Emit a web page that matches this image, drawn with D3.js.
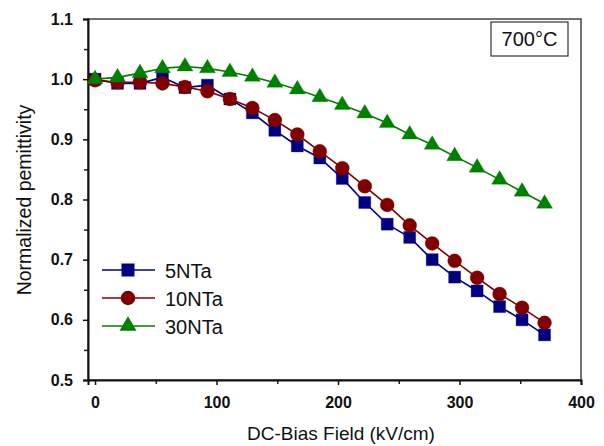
<!DOCTYPE html>
<html>
<head>
<meta charset="utf-8">
<script src="https://cdn.jsdelivr.net/npm/d3@7"></script>
<style>
  body { margin: 0; background: #fff; }
  svg { display: block; font-family: Arial, "Liberation Sans", sans-serif; }
</style>
</head>
<body>
<svg width="604" height="446"></svg>
<script>
const field = [0, 18.5, 37, 55.5, 74, 92.5, 111, 129.5, 148, 166.5, 185, 203.5, 222, 240.5, 259, 277.5, 296, 314.5, 333, 351.5, 370];
const nta5 = [1.000, 0.993, 0.993, 1.003, 0.986, 0.990, 0.967, 0.944, 0.915, 0.889, 0.869, 0.835, 0.795, 0.759, 0.737, 0.700, 0.671, 0.648, 0.622, 0.600, 0.575];
const nta10 = [0.998, 0.995, 0.995, 0.993, 0.987, 0.980, 0.967, 0.952, 0.932, 0.908, 0.880, 0.852, 0.822, 0.791, 0.757, 0.727, 0.698, 0.670, 0.643, 0.620, 0.595];
const nta30 = [1.000, 1.003, 1.010, 1.018, 1.021, 1.018, 1.012, 1.004, 0.994, 0.983, 0.970, 0.957, 0.943, 0.927, 0.908, 0.891, 0.872, 0.853, 0.833, 0.813, 0.793];
const xTicks = [0, 100, 200, 300, 400];
const yTicks = [0.5, 0.6, 0.7, 0.8, 0.9, 1.0, 1.1];

// wide triangle, centroid on the point (size is used as the base width)
const wideTriangle = {
    draw(context, size) {
        const w = size / 2, h = size * 0.85;
        context.moveTo(0, -h * 2 / 3);
        context.lineTo(w, h / 3);
        context.lineTo(-w, h / 3);
        context.closePath();
    }
};

const series = [
    {name: "5NTa", values: nta5, color: "#000080", symbol: d3.symbolSquare, size: 144, legendSize: 169},
    {name: "10NTa", values: nta10, color: "#800000", symbol: d3.symbolCircle, size: 154, legendSize: 165},
    {name: "30NTa", values: nta30, color: "#008000", symbol: wideTriangle, size: 16, legendSize: 17}
];

const svg = d3.select("svg"),
    margin = {top: 19, right: 23, bottom: 66, left: 88},
    width = +svg.attr("width") - margin.left - margin.right,
    height = +svg.attr("height") - margin.top - margin.bottom;

const g = svg.append("g")
    .attr("transform", `translate(${margin.left},${margin.top})`);

const x = d3.scaleLinear()
    .domain([-5.8, 400])
    .range([0, width]);

const y = d3.scaleLinear()
    .domain([0.5, 1.1])
    .range([height, 0]);

// frame
g.append("rect")
    .attr("width", width)
    .attr("height", height)
    .attr("fill", "none")
    .attr("stroke", "#444")
    .attr("stroke-width", 1.5);

// minor ticks
g.append("g")
    .attr("transform", `translate(0,${height})`)
    .call(d3.axisBottom(x).tickValues([50, 150, 250, 350]).tickSize(4).tickFormat(""))
    .call(a => a.select(".domain").remove())
    .call(a => a.selectAll("line").attr("stroke", "#222").attr("stroke-width", 1.5));

g.append("g")
    .call(d3.axisLeft(y).tickValues([0.55, 0.65, 0.75, 0.85, 0.95, 1.05]).tickSize(4).tickFormat(""))
    .call(a => a.select(".domain").remove())
    .call(a => a.selectAll("line").attr("stroke", "#222").attr("stroke-width", 1.5));

// major axes
g.append("g")
    .attr("transform", `translate(0,${height})`)
    .call(d3.axisBottom(x).tickValues(xTicks).tickSize(5).tickPadding(12).tickFormat(d3.format("d")))
    .call(a => a.select(".domain").attr("stroke", "#111").attr("stroke-width", 2))
    .call(a => a.selectAll("line").attr("stroke", "#111").attr("stroke-width", 1.5))
    .call(a => a.selectAll("text")
        .attr("fill", "#111")
        .style("font-size", "16px")
        .style("font-weight", "bold"));

g.append("g")
    .call(d3.axisLeft(y).tickValues(yTicks).tickSize(5).tickPadding(10).tickFormat(d3.format(".1f")))
    .call(a => a.select(".domain").attr("stroke", "#111").attr("stroke-width", 2))
    .call(a => a.selectAll("line").attr("stroke", "#111").attr("stroke-width", 1.5))
    .call(a => a.selectAll("text")
        .attr("fill", "#111")
        .style("font-size", "16px")
        .style("font-weight", "bold"));

// series
const line = d3.line()
    .x((d, i) => x(field[i]))
    .y(d => y(d));

series.forEach(s => {
    g.append("path")
        .datum(s.values)
        .attr("fill", "none")
        .attr("stroke", s.color)
        .attr("stroke-width", 1.6)
        .attr("d", line);

    g.selectAll(null)
        .data(s.values)
        .join("path")
        .attr("transform", (d, i) => `translate(${x(field[i])},${y(d)})`)
        .attr("d", d3.symbol(s.symbol, s.size))
        .attr("fill", s.color)
        .attr("stroke", s.color)
        .attr("stroke-opacity", 0.4)
        .attr("stroke-width", 0.8);
});

// legend
const legend = svg.append("g");
series.forEach((s, i) => {
    const ly = 270 + i * 28;
    legend.append("line")
        .attr("x1", 102).attr("x2", 155)
        .attr("y1", ly).attr("y2", ly)
        .attr("stroke", s.color)
        .attr("stroke-width", 1.6);
    legend.append("path")
        .attr("transform", `translate(128,${ly})`)
        .attr("d", d3.symbol(s.symbol, s.legendSize))
        .attr("fill", s.color);
    legend.append("text")
        .attr("x", 165)
        .attr("y", ly + 7.5)
        .attr("fill", "#111")
        .style("font-size", "20px")
        .text(s.name);
});

// temperature box
svg.append("rect")
    .attr("x", 491).attr("y", 22)
    .attr("width", 77).attr("height", 34)
    .attr("fill", "#fff")
    .attr("stroke", "#333")
    .attr("stroke-width", 1.2);
svg.append("text")
    .attr("x", 529.5).attr("y", 46)
    .attr("text-anchor", "middle")
    .attr("fill", "#111")
    .style("font-size", "20px")
    .text("700°C");

// axis titles
svg.append("text")
    .attr("x", 341).attr("y", 440)
    .attr("text-anchor", "middle")
    .attr("fill", "#111")
    .style("font-size", "19px")
    .text("DC-Bias Field (kV/cm)");

svg.append("text")
    .attr("transform", "translate(31,200) rotate(-90)")
    .attr("text-anchor", "middle")
    .attr("fill", "#111")
    .style("font-size", "19.5px")
    .text("Normalized pemittivity");
</script>
</body>
</html>
